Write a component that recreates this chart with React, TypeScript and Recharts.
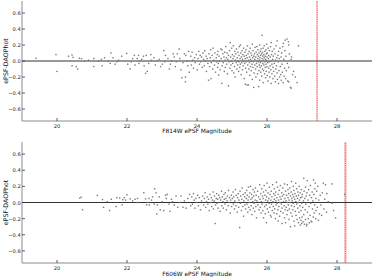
import React from "react";
import {
  ScatterChart,
  Scatter,
  XAxis,
  YAxis,
  ReferenceLine,
} from "recharts";

// magnitude ticks and difference ticks
const magTicks = [20, 22, 24, 26, 28];
const diffTicks = [-0.6, -0.4, -0.2, 0.0, 0.2, 0.4, 0.6];
const magDomain: [number, number] = [19, 29];
const diffDomain: [number, number] = [-0.75, 0.75];

// 50% completeness limits (red dotted lines)
const f814Limit = 27.43;
const f606Limit = 28.24;

// F814W: [ePSF magnitude, ePSF - DAOPhot]
const f814Points: [number, number][] = [
  [19.4, 0.034], [19.97, 0.08], [20.0, -0.13], [20.33, 0.06], [20.43, 0.075], [20.46, 0.045],
  [20.43, -0.06], [20.55, -0.07], [20.59, -0.1], [20.64, 0.034], [20.7, 0.03], [20.79, 0.0],
  [20.9, 0.01], [21.05, 0.03], [21.05, -0.07], [21.19, 0.0], [21.27, 0.02], [21.29, -0.06],
  [21.36, 0.04], [21.46, 0.0], [21.54, 0.1], [21.52, -0.03], [21.6, 0.04], [21.66, -0.04],
  [21.71, -0.01], [21.76, 0.01], [21.85, 0.06], [21.99, 0.095], [22.02, -0.04], [22.09, -0.1],
  [22.12, -0.01], [22.16, 0.03], [22.21, 0.07], [22.23, -0.05], [22.29, 0.03], [22.33, 0.07],
  [22.34, -0.03], [22.38, 0.0], [22.42, 0.02], [22.47, 0.06], [22.49, -0.06], [22.53, -0.155],
  [22.55, 0.07], [22.58, -0.13], [22.62, -0.03], [22.68, 0.08], [22.7, 0.01], [22.77, 0.04],
  [22.81, -0.05], [22.86, 0.0], [22.92, 0.02], [22.96, -0.07], [23.01, -0.04], [23.05, 0.13],
  [23.08, -0.01], [23.1, 0.07], [23.17, 0.03], [23.21, -0.1], [23.24, -0.04], [23.27, 0.0],
  [23.32, 0.09], [23.35, 0.05], [23.38, -0.07], [23.41, -0.01], [23.44, 0.09], [23.49, 0.15],
  [23.51, 0.03], [23.54, -0.11], [23.57, -0.21], [23.6, -0.02], [23.64, 0.09], [23.67, -0.26],
  [23.68, 0.07], [23.71, 0.0], [23.74, -0.06], [23.76, 0.12], [23.78, -0.14], [23.67, -0.2],
  [23.82, 0.06], [23.84, -0.05], [23.86, 0.11], [23.88, 0.01], [23.9, -0.09], [23.93, 0.04],
  [23.95, -0.02], [23.98, 0.08], [24.01, -0.11], [24.03, 0.03], [24.05, 0.12], [24.07, -0.04],
  [24.09, 0.07], [24.11, -0.01], [24.13, 0.05], [24.15, -0.08], [24.17, 0.1], [24.19, 0.02],
  [24.21, -0.06], [24.22, 0.13], [24.24, 0.0], [24.26, 0.06], [24.27, -0.13], [24.29, 0.03],
  [24.31, -0.03], [24.33, -0.24], [24.34, 0.09], [24.36, -0.07], [24.38, 0.04], [24.39, 0.14],
  [24.4, -0.22], [24.41, -0.02], [24.43, 0.07], [24.45, -0.1], [24.46, 0.16], [24.48, 0.01],
  [24.5, -0.05], [24.51, 0.1], [24.53, -0.14], [24.55, 0.04], [24.56, -0.01], [24.58, 0.08],
  [24.59, -0.08], [24.6, 0.12], [24.61, -0.03], [24.62, -0.175], [24.63, 0.06], [24.65, 0.0],
  [24.66, -0.11], [24.68, 0.15], [24.69, 0.03], [24.71, 0.14], [24.71, -0.28], [24.72, -0.06],
  [24.74, 0.09], [24.75, -0.02], [24.77, 0.05], [24.78, -0.13], [24.79, 0.11], [24.8, 0.01],
  [24.81, -0.08], [24.82, 0.18], [24.84, 0.04], [24.85, -0.04], [24.86, 0.1], [24.87, -0.16],
  [24.88, 0.02], [24.9, -0.31], [24.9, 0.07], [24.91, -0.01], [24.93, 0.13], [24.94, -0.09],
  [24.95, 0.23], [24.96, 0.05], [24.97, -0.05], [24.98, 0.0], [24.99, 0.16], [25.0, -0.12],
  [25.01, 0.08], [25.02, -0.03], [25.03, 0.03], [25.04, 0.19], [25.05, -0.15], [25.06, 0.06],
  [25.07, -0.07], [25.08, 0.12], [25.09, -0.2], [25.1, 0.01], [25.11, 0.09], [25.12, -0.02],
  [25.13, 0.15], [25.14, -0.1], [25.15, 0.04], [25.16, -0.05], [25.17, 0.11], [25.18, 0.0],
  [25.19, -0.13], [25.2, 0.07], [25.2, -0.01], [25.21, 0.18], [25.22, -0.08], [25.23, 0.03],
  [25.24, 0.2], [25.24, -0.04], [25.25, 0.1], [25.26, -0.17], [25.27, 0.05], [25.28, -0.02],
  [25.29, 0.13], [25.3, -0.11], [25.3, 0.02], [25.31, 0.08], [25.32, -0.06], [25.33, 0.16],
  [25.34, 0.0], [25.35, -0.22], [25.35, 0.06], [25.36, -0.03], [25.37, 0.11], [25.38, -0.29],
  [25.38, 0.03], [25.39, -0.09], [25.4, 0.14], [25.4, -0.01], [25.41, 0.07], [25.42, -0.14],
  [25.43, -0.3], [25.43, 0.04], [25.44, 0.19], [25.45, -0.05], [25.46, 0.09], [25.47, -0.3],
  [25.47, 0.01], [25.48, -0.1], [25.49, 0.12], [25.5, -0.02], [25.5, 0.05], [25.51, -0.18],
  [25.52, 0.16], [25.53, -0.07], [25.53, 0.02], [25.54, 0.1], [25.55, -0.12], [25.56, 0.0],
  [25.56, 0.07], [25.57, -0.04], [25.58, 0.21], [25.58, -0.23], [25.59, 0.04], [25.6, -0.08],
  [25.6, 0.13], [25.61, -0.01], [25.62, -0.33], [25.62, 0.06], [25.63, -0.15], [25.64, 0.09],
  [25.65, -0.05], [25.65, 0.02], [25.66, 0.17], [25.67, -0.1], [25.68, 0.05], [25.68, -0.2],
  [25.69, 0.11], [25.7, -0.03], [25.7, 0.0], [25.71, 0.18], [25.72, -0.07], [25.72, 0.08],
  [25.73, -0.16], [25.74, 0.03], [25.74, 0.14], [25.75, -0.01], [25.76, -0.32], [25.76, 0.06],
  [25.77, -0.12], [25.77, 0.1], [25.78, -0.05], [25.78, 0.01], [25.79, 0.2], [25.79, -0.24],
  [25.8, 0.04], [25.8, -0.08], [25.81, 0.12], [25.81, -0.02], [25.82, 0.07], [25.82, -0.14],
  [25.83, 0.15], [25.83, 0.0], [25.84, -0.06], [25.85, 0.09], [25.85, -0.19], [25.86, 0.32],
  [25.86, 0.03], [25.87, -0.1], [25.87, 0.11], [25.88, -0.03], [25.88, 0.06], [25.89, -0.27],
  [25.89, 0.16], [25.9, 0.01], [25.9, -0.12], [25.91, 0.08], [25.91, -0.05], [25.92, 0.19],
  [25.92, 0.04], [25.93, -0.16], [25.93, -0.01], [25.94, 0.12], [25.95, -0.08], [25.95, 0.06],
  [25.96, -0.21], [25.96, 0.02], [25.97, 0.14], [25.97, -0.04], [25.98, 0.09], [25.98, -0.13],
  [25.99, 0.0], [25.99, 0.21], [26.0, -0.07], [26.0, 0.05], [26.01, -0.18], [26.01, 0.1],
  [26.02, -0.02], [26.03, 0.16], [26.03, -0.25], [26.04, 0.03], [26.05, -0.09], [26.05, 0.07],
  [26.06, -0.14], [26.07, 0.13], [26.07, -0.01], [26.08, -0.2], [26.09, 0.05], [26.09, -0.06],
  [26.1, 0.18], [26.11, -0.11], [26.11, 0.0], [26.12, 0.23], [26.12, -0.28], [26.13, 0.08],
  [26.14, -0.04], [26.14, -0.16], [26.15, 0.12], [26.16, 0.02], [26.17, -0.22], [26.17, -0.08],
  [26.18, 0.06], [26.19, -0.13], [26.2, 0.15], [26.21, -0.03], [26.22, -0.19], [26.23, 0.09],
  [26.24, -0.26], [26.24, 0.01], [26.25, -0.1], [26.26, 0.19], [26.27, -0.06], [26.28, 0.04],
  [26.29, 0.25], [26.29, -0.15], [26.3, -0.23], [26.31, 0.07], [26.32, -0.01], [26.33, -0.28],
  [26.33, 0.12], [26.34, -0.12], [26.35, 0.03], [26.36, -0.2], [26.37, 0.16], [26.38, -0.07],
  [26.39, -0.17], [26.4, 0.05], [26.41, -0.24], [26.42, 0.1], [26.43, -0.04], [26.44, -0.14],
  [26.45, 0.18], [26.46, -0.27], [26.47, 0.22], [26.48, 0.02], [26.49, -0.19], [26.5, -0.09],
  [26.51, 0.13], [26.52, 0.26], [26.53, -0.22], [26.54, 0.06], [26.55, -0.12], [26.57, 0.275],
  [26.58, -0.03], [26.59, -0.25], [26.61, 0.24], [26.62, -0.08], [26.62, 0.2], [26.62, -0.26],
  [26.64, 0.09], [26.67, -0.33], [26.69, 0.02], [26.69, -0.34], [26.7, 0.05], [26.73, -0.17],
  [26.76, -0.13], [26.81, -0.2], [26.86, -0.27], [26.9, 0.19],
];

// F606W: [ePSF magnitude, ePSF - DAOPhot]
const f606Points: [number, number][] = [
  [20.65, 0.054], [20.69, 0.066], [20.73, -0.09], [21.15, 0.087], [21.3, 0.037], [21.33, -0.06],
  [21.44, 0.01], [21.5, -0.1], [21.55, 0.04], [21.71, 0.06], [21.69, -0.05], [21.79, 0.055],
  [21.86, -0.03], [21.88, 0.035], [21.92, 0.06], [22.0, 0.095], [21.96, 0.03], [22.09, 0.045],
  [22.16, 0.02], [22.23, 0.04], [22.29, 0.0], [22.3, 0.05], [22.48, 0.12], [22.53, 0.045],
  [22.56, -0.03], [22.59, 0.0], [22.63, 0.05], [22.64, -0.03], [22.7, 0.03], [22.73, 0.07],
  [22.78, -0.02], [22.79, 0.17], [22.83, 0.12], [22.85, -0.14], [22.87, -0.03], [22.92, 0.07],
  [22.95, -0.09], [23.0, 0.01], [23.05, -0.1], [23.1, 0.09], [23.12, 0.05], [23.15, 0.1],
  [23.2, -0.02], [23.23, -0.11], [23.27, 0.04], [23.3, 0.01], [23.35, -0.03], [23.4, 0.08],
  [23.45, -0.06], [23.5, 0.0], [23.54, 0.08], [23.6, -0.06], [23.64, 0.02], [23.69, -0.07],
  [23.74, 0.05], [23.79, 0.1], [23.82, -0.04], [23.85, 0.07], [23.87, -0.02], [23.9, 0.11],
  [23.92, 0.03], [23.94, -0.07], [23.97, 0.05], [23.99, 0.0], [24.02, 0.09], [24.04, -0.04],
  [24.07, 0.06], [24.1, -0.09], [24.13, 0.02], [24.16, 0.08], [24.19, -0.03], [24.21, 0.05],
  [24.23, 0.12], [24.25, -0.06], [24.27, 0.01], [24.29, 0.07], [24.31, -0.02], [24.33, 0.04],
  [24.35, -0.1], [24.37, 0.1], [24.39, 0.0], [24.41, 0.06], [24.42, -0.05], [24.44, 0.03],
  [24.46, 0.13], [24.47, -0.08], [24.49, 0.02], [24.5, 0.08], [24.52, -0.26], [24.53, -0.03],
  [24.55, 0.05], [24.56, 0.11], [24.57, -0.01], [24.59, 0.04], [24.6, -0.07], [24.62, 0.09],
  [24.63, 0.0], [24.65, 0.06], [24.66, -0.11], [24.68, 0.03], [24.7, 0.14], [24.71, -0.04],
  [24.72, 0.07], [24.74, 0.01], [24.75, -0.07], [24.77, 0.1], [24.78, 0.04], [24.8, -0.02],
  [24.81, 0.12], [24.83, 0.05], [24.84, -0.09], [24.86, 0.02], [24.87, 0.08], [24.89, -0.04],
  [24.9, 0.15], [24.92, 0.0], [24.93, 0.06], [24.95, -0.13], [24.96, 0.03], [24.98, 0.09],
  [24.99, -0.05], [25.01, 0.05], [25.03, 0.13], [25.04, -0.02], [25.05, 0.07], [25.07, -0.08],
  [25.08, 0.02], [25.1, 0.16], [25.11, -0.04], [25.12, 0.09], [25.14, 0.0], [25.15, -0.12],
  [25.16, 0.06], [25.18, 0.11], [25.19, -0.06], [25.2, 0.03], [25.22, -0.31], [25.23, 0.14],
  [25.24, -0.01], [25.25, 0.08], [25.27, -0.1], [25.28, 0.04], [25.29, 0.18], [25.31, -0.05],
  [25.32, 0.1], [25.33, -0.17], [25.34, 0.02], [25.36, 0.07], [25.37, -0.03], [25.38, 0.12],
  [25.39, -0.08], [25.41, 0.05], [25.42, 0.15], [25.43, -0.02], [25.44, 0.09], [25.45, -0.12],
  [25.46, 0.03], [25.47, 0.19], [25.48, -0.06], [25.49, 0.07], [25.5, 0.0], [25.51, 0.12],
  [25.52, -0.09], [25.53, 0.2], [25.54, 0.04], [25.55, -0.04], [25.56, 0.1], [25.57, -0.15],
  [25.58, 0.06], [25.59, 0.01], [25.6, 0.16], [25.61, -0.07], [25.62, 0.08], [25.63, -0.01],
  [25.64, 0.13], [25.65, -0.11], [25.66, 0.03], [25.67, 0.18], [25.68, -0.05], [25.69, 0.09],
  [25.7, -0.19], [25.71, 0.02], [25.73, 0.14], [25.74, -0.03], [25.76, 0.07], [25.77, -0.09],
  [25.79, 0.22], [25.8, 0.04], [25.81, -0.06], [25.82, 0.11], [25.83, -0.13], [25.84, 0.01],
  [25.85, 0.17], [25.86, -0.02], [25.87, 0.08], [25.88, -0.1], [25.89, 0.05], [25.9, -0.19],
  [25.9, 0.13], [25.91, 0.0], [25.92, 0.21], [25.93, -0.05], [25.94, 0.09], [25.95, -0.14],
  [25.96, 0.03], [25.97, 0.15], [25.98, -0.25], [25.98, -0.03], [25.99, 0.07], [26.0, 0.24],
  [26.01, -0.08], [26.02, 0.02], [26.03, 0.12], [26.04, -0.12], [26.05, 0.05], [26.06, -0.01],
  [26.07, 0.19], [26.08, -0.06], [26.09, 0.1], [26.1, -0.16], [26.11, 0.03], [26.12, -0.18],
  [26.12, 0.14], [26.13, -0.02], [26.14, 0.07], [26.15, -0.1], [26.16, 0.22], [26.17, 0.01],
  [26.18, -0.05], [26.19, 0.11], [26.2, -0.13], [26.21, 0.04], [26.21, 0.17], [26.22, -0.08],
  [26.23, 0.09], [26.24, -0.2], [26.25, 0.02], [26.25, 0.13], [26.26, -0.03], [26.27, 0.25],
  [26.28, -0.14], [26.28, 0.06], [26.29, -0.01], [26.3, 0.19], [26.31, -0.09], [26.32, 0.1],
  [26.32, -0.23], [26.33, 0.03], [26.34, -0.05], [26.35, 0.15], [26.36, -0.17], [26.37, 0.07],
  [26.37, 0.0], [26.38, 0.21], [26.39, -0.11], [26.4, 0.04], [26.41, -0.02], [26.42, 0.12],
  [26.43, -0.26], [26.43, -0.07], [26.44, 0.08], [26.45, 0.18], [26.46, -0.13], [26.47, 0.01],
  [26.48, 0.1], [26.49, -0.04], [26.5, -0.19], [26.5, 0.23], [26.51, 0.05], [26.52, -0.09],
  [26.53, -0.25], [26.53, 0.14], [26.54, 0.02], [26.55, -0.06], [26.56, 0.09], [26.57, -0.15],
  [26.58, 0.22], [26.58, 0.0], [26.59, -0.1], [26.6, 0.06], [26.6, 0.16], [26.61, -0.03],
  [26.62, 0.11], [26.63, -0.21], [26.63, 0.03], [26.64, -0.08], [26.65, 0.18], [26.66, 0.0],
  [26.67, -0.3], [26.67, 0.08], [26.68, -0.13], [26.69, 0.13], [26.7, -0.04], [26.7, 0.26],
  [26.71, 0.05], [26.72, -0.17], [26.72, 0.02], [26.73, 0.1], [26.74, -0.09], [26.75, 0.2],
  [26.75, -0.01], [26.76, 0.07], [26.77, -0.23], [26.77, 0.15], [26.78, -0.05], [26.79, -0.29],
  [26.79, 0.04], [26.8, 0.11], [26.81, -0.11], [26.82, 0.24], [26.82, 0.01], [26.83, -0.16],
  [26.84, 0.08], [26.85, -0.02], [26.85, 0.17], [26.86, -0.21], [26.87, 0.05], [26.88, -0.07],
  [26.88, 0.13], [26.89, 0.0], [26.9, -0.25], [26.9, 0.09], [26.91, -0.12], [26.92, 0.2],
  [26.93, 0.03], [26.93, -0.19], [26.94, -0.04], [26.95, -0.28], [26.95, 0.12], [26.96, 0.06],
  [26.97, -0.1], [26.97, -0.22], [26.98, 0.16], [26.99, -0.01], [27.0, -0.18], [27.0, 0.07],
  [26.99, -0.26], [27.01, 0.1], [27.02, -0.06], [27.03, -0.24], [27.04, 0.02], [27.05, 0.3],
  [27.05, -0.15], [27.06, 0.14], [27.07, -0.27], [27.08, 0.05], [27.09, -0.09], [27.1, 0.19],
  [27.1, -0.21], [27.11, -0.02], [27.12, 0.08], [27.13, -0.29], [27.14, -0.27], [27.14, 0.12],
  [27.15, 0.27], [27.16, -0.12], [27.17, 0.03], [27.18, -0.2], [27.19, 0.16], [27.2, -0.05],
  [27.21, -0.25], [27.22, 0.09], [27.23, -0.16], [27.24, 0.21], [27.25, -0.01], [27.26, -0.23],
  [27.27, 0.06], [27.28, -0.24], [27.29, 0.13], [27.3, -0.08], [27.31, 0.02], [27.32, -0.18],
  [27.33, 0.28], [27.34, 0.1], [27.35, -0.13], [27.36, -0.03], [27.37, 0.17], [27.38, 0.24],
  [27.39, -0.2], [27.4, 0.05], [27.4, -0.1], [27.42, 0.14], [27.44, -0.06], [27.45, 0.2],
  [27.47, -0.22], [27.48, 0.03], [27.5, -0.14], [27.52, 0.09], [27.54, -0.03], [27.56, -0.16],
  [27.58, 0.12], [27.61, 0.24], [27.63, -0.08], [27.65, 0.04], [27.67, 0.22], [27.7, -0.12],
  [27.71, 0.11], [27.75, 0.01], [27.86, 0.23], [27.86, -0.01], [27.9, -0.1], [27.96, -0.19],
  [28.22, 0.1],
];

const FONT = "DejaVu Sans, sans-serif";
const SPINE = "#8c8c8c";
const TICK_FS = 5.2;
const LABEL_FS = 5.9;

const fmtDiff = (v: number) => (v < 0 ? "\u2212" : "") + Math.abs(v).toFixed(1);

const BottomTick = (props: any) => {
  const { x, y, payload } = props;
  return (
    <g>
      <line x1={x} x2={x} y1={y} y2={y - 3} stroke="#333" strokeWidth={0.8} />
      <text x={x} y={y + 4.8} textAnchor="middle" dominantBaseline="central" fontSize={TICK_FS} fontFamily={FONT} fill="#222">
        {payload.value}
      </text>
    </g>
  );
};

const TopTick = (props: any) => {
  const { x, y } = props;
  return <line x1={x} x2={x} y1={y} y2={y + 3} stroke="#333" strokeWidth={0.8} />;
};

const LeftTick = (props: any) => {
  const { x, y, payload } = props;
  return (
    <g>
      <line x1={x} x2={x + 3} y1={y} y2={y} stroke="#333" strokeWidth={0.8} />
      <text x={x - 1.2} y={y} textAnchor="end" dominantBaseline="central" fontSize={TICK_FS} fontFamily={FONT} fill="#222">
        {fmtDiff(payload.value)}
      </text>
    </g>
  );
};

const RightTick = (props: any) => {
  const { x, y } = props;
  return <line x1={x} x2={x - 3} y1={y} y2={y} stroke="#333" strokeWidth={0.8} />;
};

const Dot = (props: any) => {
  const { cx, cy } = props;
  if (cx == null || cy == null) return <g />;
  return <rect x={cx - 0.7} y={cy - 0.7} width={1.4} height={1.4} fill="#7a7a7a" />;
};

type PanelProps = {
  points: [number, number][];
  limit: number;
  xLabel: string;
  height: number;
  xAxisHeight: number;
  labelDy: number;
  bandWidth: number;
};

function Panel({ points, limit, xLabel, height, xAxisHeight, labelDy, bandWidth }: PanelProps) {
  const data = points.map(([mag, diff]) => ({ mag, diff }));
  return (
    <ScatterChart width={374} height={height} margin={{ top: 1, right: 2, bottom: 0, left: 0 }}>
      <XAxis
        dataKey="mag"
        type="number"
        domain={magDomain}
        ticks={magTicks}
        interval={0}
        allowDataOverflow
        height={xAxisHeight}
        tickSize={0}
        tickMargin={0}
        tickLine={false}
        stroke={SPINE}
        tick={BottomTick}
        label={{
          content: (p: any) => {
            const vb = p.viewBox;
            return (
              <text x={vb.x + vb.width / 2} y={vb.y + labelDy} textAnchor="middle" dominantBaseline="central" fontSize={LABEL_FS} fontFamily={FONT} fill="#111">
                {xLabel}
              </text>
            );
          },
        }}
      />
      <XAxis
        xAxisId="top"
        orientation="top"
        type="number"
        domain={magDomain}
        ticks={magTicks}
        interval={0}
        allowDataOverflow
        height={0}
        tickSize={0}
        tickMargin={0}
        tickLine={false}
        stroke={SPINE}
        tick={TopTick}
      />
      <YAxis
        dataKey="diff"
        type="number"
        domain={diffDomain}
        ticks={diffTicks}
        interval={0}
        allowDataOverflow
        width={22}
        tickSize={0}
        tickMargin={0}
        tickLine={false}
        stroke={SPINE}
        tick={LeftTick}
        label={{
          content: (p: any) => {
            const vb = p.viewBox;
            const cy = vb.y + vb.height / 2;
            const cx = 5.5;
            return (
              <text x={cx} y={cy} transform={`rotate(-90 ${cx} ${cy})`} textAnchor="middle" dominantBaseline="central" fontSize={LABEL_FS + 0.4} fontFamily={FONT} fill="#111">
                ePSF-DAOPhot
              </text>
            );
          },
        }}
      />
      <YAxis
        yAxisId="right"
        orientation="right"
        type="number"
        domain={diffDomain}
        ticks={diffTicks}
        interval={0}
        allowDataOverflow
        width={0}
        tickSize={0}
        tickMargin={0}
        tickLine={false}
        stroke={SPINE}
        tick={RightTick}
      />
      <ReferenceLine x={limit} stroke="#fbc4c4" strokeWidth={bandWidth} />
      <ReferenceLine x={limit} stroke="#ee3a3a" strokeWidth={0.8} strokeDasharray="1 1.2" />
      <Scatter data={data} shape={Dot} isAnimationActive={false} />
      <ReferenceLine y={0} stroke="#333" strokeWidth={1} />
    </ScatterChart>
  );
}

export default function App() {
  return (
    <div style={{ position: "absolute", left: 0, top: 0, width: 374, height: 277, background: "#fff" }}>
      <Panel points={f814Points} limit={f814Limit} xLabel="F814W ePSF Magnitude" height={137} xAxisHeight={16} labelDy={10.3} bandWidth={1.6} />
      <div style={{ position: "absolute", left: 0, top: 141 }}>
        <Panel points={f606Points} limit={f606Limit} xLabel="F606W ePSF Magnitude" height={136} xAxisHeight={14} labelDy={10.6} bandWidth={2.6} />
      </div>
    </div>
  );
}
